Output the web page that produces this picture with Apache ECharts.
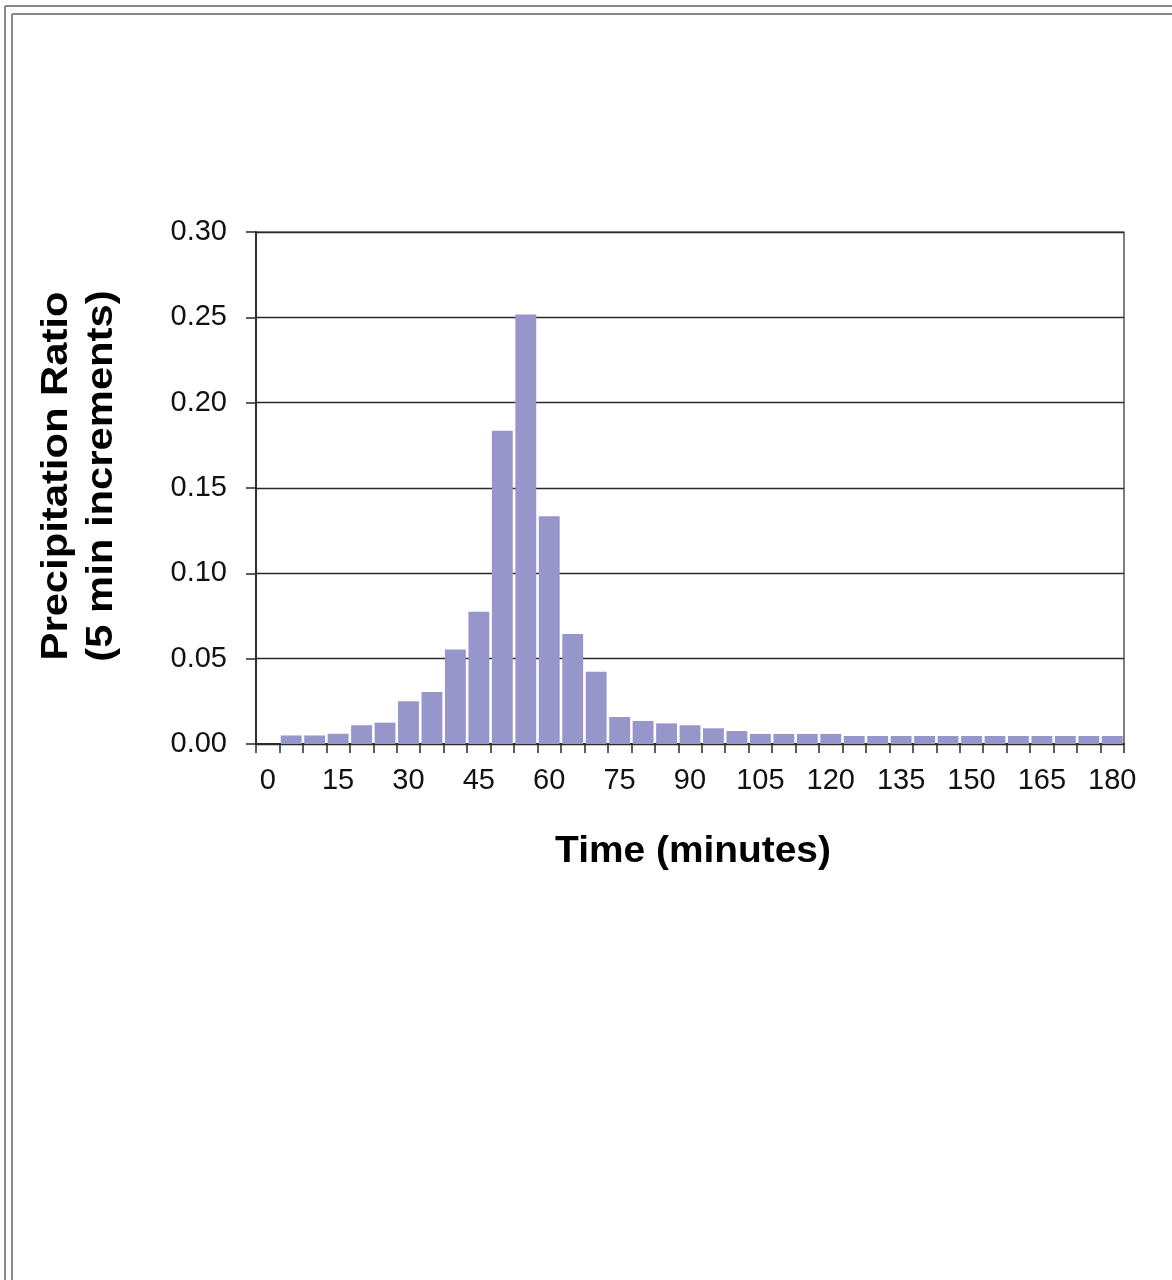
<!DOCTYPE html>
<html>
<head>
<meta charset="utf-8">
<script src="https://cdn.jsdelivr.net/npm/echarts@6/dist/echarts.min.js"></script>
<style>
  html, body { margin: 0; padding: 0; background: #ffffff; }
  #chart { width: 1172px; height: 1280px; }
</style>
</head>
<body>
<div id="chart"></div>
<script>
const timeCategories = ['0','5','10','15','20','25','30','35','40','45','50','55','60','65','70','75','80','85','90','95','100','105','110','115','120','125','130','135','140','145','150','155','160','165','170','175','180'];
const precipitationRatio = [0, 0.005, 0.005, 0.006, 0.011, 0.0125, 0.025, 0.0305, 0.0553, 0.0775, 0.1836, 0.2516, 0.1335, 0.0645, 0.0424, 0.0158, 0.0135, 0.0121, 0.011, 0.0092, 0.0076, 0.0059, 0.0059, 0.0059, 0.0059, 0.0047, 0.0047, 0.0047, 0.0047, 0.0047, 0.0047, 0.0047, 0.0047, 0.0047, 0.0047, 0.0047, 0.0047];
const yTicks = { min: 0, max: 0.30, step: 0.05 };
const yTitleLines = ['Precipitation Ratio', '(5 min increments)'];
const xTitle = 'Time (minutes)';

const chart = echarts.init(document.getElementById('chart'), null, { renderer: 'canvas' });
const axisColor = '#2a2a2a';
const labelFont = 'Liberation Sans, Arial, sans-serif';

chart.setOption({
  backgroundColor: '#ffffff',
  animation: false,
  grid: {
    left: 256, right: 48, top: 232, bottom: 536,
    show: true, borderColor: axisColor, borderWidth: 1.2, backgroundColor: 'transparent'
  },
  xAxis: {
    type: 'category',
    data: timeCategories,
    boundaryGap: true,
    axisLine: { show: true, lineStyle: { color: axisColor, width: 1.8 } },
    axisTick: { show: true, interval: 0, alignWithLabel: false, length: 9, lineStyle: { color: axisColor, width: 1.5 } },
    axisLabel: { interval: 2, fontSize: 29, color: '#111111', fontFamily: labelFont, margin: 22 },
    splitLine: { show: false }
  },
  yAxis: {
    type: 'value',
    min: yTicks.min, max: yTicks.max, interval: yTicks.step,
    axisLine: { show: true, lineStyle: { color: axisColor, width: 1.8 } },
    axisTick: { show: true, length: 10, lineStyle: { color: axisColor, width: 1.5 } },
    axisLabel: { fontSize: 29, color: '#111111', fontFamily: labelFont, margin: 29, formatter: v => v.toFixed(2) },
    splitLine: { show: true, lineStyle: { color: axisColor, width: 1.3 } }
  },
  series: [{
    type: 'bar',
    data: precipitationRatio,
    barCategoryGap: '11%',
    itemStyle: { color: '#9696cb' },
    z: 3
  }],
  graphic: [
    { type: 'line', shape: { x1: 5, y1: 6, x2: 1172, y2: 6 }, style: { stroke: '#888888', lineWidth: 2 } },
    { type: 'line', shape: { x1: 5, y1: 6, x2: 5, y2: 1280 }, style: { stroke: '#888888', lineWidth: 2 } },
    { type: 'line', shape: { x1: 12, y1: 14, x2: 1172, y2: 14 }, style: { stroke: '#888888', lineWidth: 2 } },
    { type: 'line', shape: { x1: 12, y1: 14, x2: 12, y2: 1280 }, style: { stroke: '#888888', lineWidth: 2 } },
    {
      type: 'text', x: 80, y: 476, rotation: Math.PI / 2, scaleX: 1.16,
      style: {
        text: yTitleLines.join('\n'),
        font: 'bold 36px Liberation Sans, Arial, sans-serif',
        fill: '#000000', textAlign: 'center', textVerticalAlign: 'middle', lineHeight: 45
      }
    },
    {
      type: 'text', x: 693, y: 852, scaleX: 1.08,
      style: {
        text: xTitle,
        font: 'bold 36px Liberation Sans, Arial, sans-serif',
        fill: '#000000', textAlign: 'center', textVerticalAlign: 'middle'
      }
    }
  ]
});
</script>
</body>
</html>
